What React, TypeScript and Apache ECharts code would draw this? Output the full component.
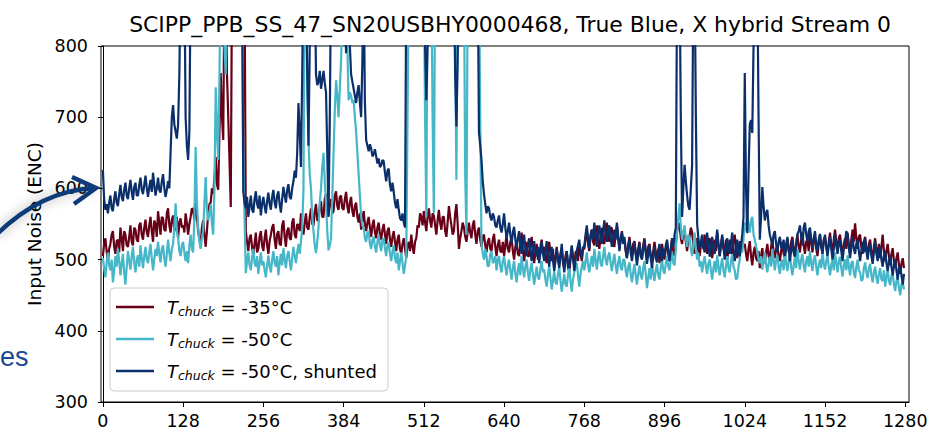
import React, { useEffect, useRef } from "react";
import * as echarts from "echarts";

const TITLE = "SCIPP_PPB_SS_47_SN20USBHY0000468, True Blue, X hybrid Stream 0";
const Y_NAME = "Input Noise (ENC)";
const STEP = 2; // channel spacing of the sampled values below
const X_TICKS = [0, 128, 256, 384, 512, 640, 768, 896, 1024, 1152, 1280];
const SERIES_NAMES = ["Tchuck = -35°C", "Tchuck = -50°C", "Tchuck = -50°C, shunted"];
const SERIES_SUFFIX = ["= -35°C", "= -50°C", "= -50°C, shunted"];
const COLORS = ["#680018", "#45b7c8", "#0b2f6b"];

// values beyond 800 run off the top of the plot (clipped)
const red = [
  505, 522, 530, 512, 498, 515, 522, 535, 540, 518, 508, 526, 528, 510, 545, 530, 512, 540, 535, 520, 518, 532, 548, 525, 520, 545, 542, 528, 525, 548, 552, 535,
  528, 545, 556, 538, 532, 548, 560, 540, 525, 555, 550, 532, 568, 552, 535, 560, 558, 542, 540, 565, 572, 548, 538, 556, 562, 540, 545, 560, 530, 552, 558, 545,
  548, 538, 565, 552, 535, 550, 560, 572, 570, 555, 598, 560, 540, 528, 522, 545, 555, 535, 518, 540, 565, 578, 580, 600, 592, 615, 644, 605, 598, 680, 762, 700,
  668, 900, 900, 760, 700, 640, 574, 900, 900, 900, 900, 900, 900, 900, 900, 900, 900, 900, 540, 525, 512, 530, 535, 518, 505, 522, 538, 510, 515, 532, 540, 520,
  512, 530, 542, 520, 508, 526, 535, 545, 550, 528, 515, 536, 540, 522, 520, 548, 555, 532, 518, 540, 545, 530, 528, 552, 558, 535, 530, 550, 548, 540, 565, 545,
  535, 552, 565, 545, 542, 560, 572, 550, 548, 568, 578, 555, 555, 575, 582, 560, 560, 585, 592, 570, 562, 580, 585, 565, 568, 590, 596, 575, 570, 588, 590, 572,
  570, 585, 595, 575, 565, 580, 588, 568, 560, 575, 580, 560, 552, 565, 542, 555, 568, 550, 540, 552, 560, 545, 532, 548, 556, 538, 530, 545, 552, 535, 528, 542,
  550, 535, 522, 540, 545, 528, 518, 532, 540, 525, 512, 528, 535, 515, 508, 522, 530, 515, 502, 520, 525, 512, 535, 518, 508, 525, 530, 548, 545, 565, 560, 548,
  568, 552, 540, 560, 572, 555, 545, 565, 562, 548, 535, 555, 570, 552, 542, 560, 560, 540, 532, 552, 575, 560, 548, 535, 540, 565, 578, 550, 515, 530, 540, 552,
  545, 532, 525, 540, 552, 538, 530, 548, 555, 535, 522, 540, 545, 528, 518, 532, 535, 520, 510, 525, 530, 515, 512, 528, 536, 518, 505, 520, 528, 512, 510, 525,
  505, 520, 535, 515, 510, 525, 530, 512, 500, 518, 526, 508, 505, 522, 538, 515, 498, 512, 525, 505, 505, 520, 532, 512, 495, 510, 522, 500, 502, 518, 528, 508,
  518, 505, 495, 512, 525, 508, 498, 515, 488, 502, 518, 500, 492, 508, 515, 495, 488, 505, 512, 490, 482, 500, 518, 502, 492, 510, 512, 498, 522, 508, 498, 515,
  515, 530, 540, 522, 512, 535, 542, 525, 520, 538, 548, 528, 515, 532, 545, 525, 522, 540, 552, 532, 525, 545, 544, 522, 518, 535, 548, 530, 515, 528, 540, 525,
  528, 512, 502, 520, 532, 515, 505, 522, 526, 510, 498, 515, 525, 508, 502, 520, 530, 512, 500, 518, 522, 505, 496, 512, 525, 510, 502, 515, 495, 508, 522, 510,
  500, 515, 525, 508, 498, 515, 528, 512, 505, 522, 538, 552, 548, 530, 522, 538, 540, 525, 512, 528, 532, 545, 538, 520, 508, 525, 530, 512, 505, 520, 528, 515,
  535, 520, 508, 525, 530, 515, 502, 518, 528, 512, 538, 520, 505, 522, 532, 515, 512, 528, 500, 515, 528, 510, 508, 525, 535, 518, 502, 515, 526, 512, 530, 518,
  522, 508, 498, 515, 526, 505, 492, 510, 518, 502, 498, 512, 488, 505, 516, 500, 495, 510, 522, 505, 500, 518, 528, 510, 502, 515, 520, 505, 498, 512, 525, 508,
  502, 518, 530, 512, 508, 525, 532, 515, 505, 522, 535, 518, 510, 528, 538, 520, 508, 525, 528, 512, 540, 525, 510, 528, 532, 515, 505, 522, 535, 518, 512, 528,
  532, 518, 508, 525, 538, 520, 510, 528, 542, 525, 512, 530, 535, 518, 505, 522, 530, 515, 538, 520, 510, 528, 542, 525, 551, 530, 515, 532, 535, 518, 508, 525,
  532, 515, 505, 522, 528, 510, 500, 518, 530, 512, 508, 522, 502, 518, 535, 512, 498, 512, 522, 505, 492, 508, 516, 498, 488, 502, 510, 492, 480, 495, 502, 488,
];

const cyan = [
  502, 488, 475, 495, 510, 492, 485, 500, 468, 485, 505, 490, 515, 498, 478, 495, 508, 482, 465, 490, 512, 498, 486, 505, 518, 495, 482, 500, 506, 490, 520, 502,
  488, 505, 518, 500, 495, 510, 522, 502, 485, 500, 515, 505, 525, 508, 496, 515, 520, 502, 490, 508, 528, 510, 498, 515, 522, 545, 579, 540, 530, 512, 505, 520,
  525, 510, 498, 512, 495, 520, 535, 515, 510, 560, 658, 580, 545, 525, 515, 530, 540, 580, 616, 570, 555, 565, 578, 550, 535, 600, 742, 680, 640, 760, 900, 900,
  900, 800, 760, 900, 900, 900, 900, 900, 900, 900, 900, 900, 900, 900, 900, 900, 640, 560, 481, 498, 510, 492, 485, 502, 515, 495, 490, 505, 480, 495, 510, 492,
  498, 485, 475, 492, 506, 490, 482, 500, 512, 495, 490, 505, 478, 495, 508, 492, 516, 500, 488, 505, 512, 498, 485, 502, 518, 505, 495, 510, 522, 508, 525, 545,
  600, 900, 900, 760, 668, 620, 600, 560, 540, 520, 509, 525, 545, 580, 600, 630, 650, 610, 580, 540, 513, 520, 530, 590, 650, 710, 752, 730, 700, 740, 780, 850,
  900, 900, 900, 800, 724, 735, 730, 720, 724, 700, 680, 650, 620, 590, 560, 548, 545, 530, 525, 538, 540, 522, 515, 528, 532, 518, 510, 525, 535, 520, 512, 528,
  530, 515, 505, 520, 525, 508, 498, 512, 520, 502, 495, 510, 485, 498, 510, 495, 480, 492, 505, 700, 900, 900, 900, 900, 900, 900, 900, 900, 900, 900, 900, 900,
  900, 700, 560, 900, 900, 900, 900, 700, 565, 900, 900, 900, 900, 900, 900, 900, 900, 900, 900, 900, 900, 900, 900, 900, 900, 800, 612, 900, 900, 900, 900, 900,
  900, 620, 535, 900, 900, 900, 900, 900, 900, 900, 900, 900, 900, 700, 522, 508, 500, 515, 505, 490, 492, 508, 512, 495, 498, 505, 485, 500, 505, 490, 482, 498,
  505, 490, 478, 492, 500, 485, 472, 488, 498, 480, 468, 485, 495, 478, 505, 488, 475, 490, 500, 482, 470, 486, 496, 480, 465, 478, 490, 475, 472, 488, 498, 482,
  486, 472, 462, 478, 492, 475, 458, 470, 484, 468, 465, 480, 490, 470, 455, 468, 480, 465, 462, 478, 488, 470, 455, 472, 482, 490, 495, 478, 462, 480, 490, 498,
  485, 498, 510, 492, 482, 495, 505, 490, 515, 500, 486, 502, 512, 495, 490, 505, 518, 500, 492, 505, 510, 495, 484, 498, 508, 492, 480, 495, 505, 490, 485, 500,
  500, 485, 475, 490, 496, 480, 468, 482, 494, 478, 465, 480, 492, 478, 472, 488, 498, 480, 460, 475, 488, 472, 495, 480, 470, 485, 494, 478, 472, 488, 500, 485,
  480, 495, 505, 490, 485, 500, 510, 495, 492, 515, 540, 560, 579, 545, 528, 538, 548, 530, 518, 535, 530, 515, 505, 520, 538, 515, 500, 510, 490, 498, 482, 495,
  505, 490, 480, 495, 500, 485, 472, 488, 498, 482, 506, 490, 478, 492, 502, 485, 475, 490, 505, 488, 482, 498, 508, 490, 485, 472, 474, 490, 500, 515, 510, 530,
  552, 540, 565, 548, 538, 555, 560, 535, 528, 518, 512, 500, 495, 505, 486, 498, 510, 492, 482, 495, 504, 490, 515, 498, 485, 500, 506, 490, 480, 495, 500, 485,
  510, 495, 484, 498, 506, 490, 478, 492, 504, 488, 515, 498, 486, 500, 508, 492, 482, 498, 505, 490, 512, 495, 484, 500, 506, 490, 478, 492, 500, 488, 512, 495,
  486, 498, 506, 490, 478, 492, 500, 485, 510, 495, 482, 498, 504, 488, 476, 492, 500, 485, 506, 490, 478, 495, 498, 482, 474, 490, 500, 485, 482, 470, 472, 488,
  496, 482, 474, 488, 494, 478, 468, 482, 490, 475, 466, 480, 488, 472, 470, 485, 462, 476, 486, 470, 464, 478, 480, 465, 456, 470, 476, 460, 450, 465, 468, 458,
];

const navy = [
  626, 585, 570, 578, 565, 580, 590, 572, 568, 585, 596, 580, 575, 592, 605, 588, 582, 598, 608, 590, 585, 600, 612, 595, 584, 602, 608, 590, 590, 605, 615, 598,
  592, 605, 618, 600, 588, 602, 612, 595, 622, 605, 590, 600, 615, 598, 594, 610, 620, 600, 588, 598, 610, 600, 650, 700, 717, 690, 680, 670, 690, 760, 900, 900,
  900, 900, 700, 660, 640, 680, 900, 900, 900, 900, 900, 900, 900, 900, 900, 900, 900, 900, 900, 900, 900, 900, 900, 900, 900, 900, 900, 900, 900, 900, 900, 900,
  900, 900, 900, 900, 900, 900, 900, 900, 900, 900, 900, 900, 900, 900, 900, 900, 595, 580, 572, 588, 560, 575, 590, 570, 566, 585, 596, 578, 572, 590, 562, 578,
  588, 575, 565, 582, 594, 578, 570, 588, 598, 580, 572, 590, 596, 578, 566, 585, 602, 590, 580, 598, 606, 588, 585, 600, 610, 625, 615, 650, 720, 680, 630, 760,
  900, 900, 900, 760, 660, 800, 900, 900, 900, 900, 760, 745, 750, 765, 740, 752, 765, 748, 735, 650, 560, 700, 900, 900, 900, 900, 900, 900, 900, 900, 900, 900,
  900, 850, 790, 900, 900, 800, 760, 750, 740, 730, 720, 735, 745, 720, 700, 780, 900, 720, 668, 660, 652, 662, 656, 645, 648, 655, 645, 635, 642, 630, 632, 640,
  638, 622, 610, 625, 628, 605, 596, 608, 595, 580, 572, 585, 570, 558, 555, 565, 552, 545, 900, 900, 900, 900, 900, 900, 900, 900, 900, 900, 900, 900, 900, 900,
  900, 800, 724, 800, 900, 900, 900, 900, 900, 900, 900, 900, 900, 900, 900, 900, 900, 900, 900, 900, 900, 900, 900, 900, 900, 760, 687, 780, 900, 900, 900, 900,
  900, 900, 900, 900, 900, 900, 900, 900, 900, 900, 900, 900, 678, 660, 640, 610, 592, 578, 565, 575, 572, 560, 555, 565, 560, 548, 545, 555, 562, 545, 538, 550,
  565, 545, 530, 540, 552, 535, 522, 538, 546, 528, 515, 530, 540, 520, 508, 525, 535, 515, 505, 520, 530, 512, 498, 515, 526, 510, 505, 518, 495, 510, 525, 508,
  498, 512, 526, 505, 490, 508, 518, 500, 484, 498, 515, 502, 488, 505, 522, 500, 482, 498, 512, 495, 488, 505, 520, 502, 484, 498, 512, 520, 528, 510, 502, 518,
  518, 535, 548, 530, 515, 532, 542, 528, 552, 535, 518, 538, 548, 530, 522, 540, 555, 538, 525, 542, 548, 530, 518, 535, 542, 528, 552, 535, 512, 528, 538, 522,
  532, 515, 502, 518, 528, 510, 498, 512, 525, 508, 492, 508, 522, 505, 500, 515, 528, 510, 494, 508, 520, 502, 488, 505, 518, 502, 496, 512, 522, 508, 498, 515,
  505, 520, 528, 510, 498, 515, 530, 518, 535, 545, 900, 900, 900, 700, 560, 600, 633, 610, 590, 575, 570, 600, 633, 900, 900, 700, 550, 530, 515, 525, 535, 518,
  510, 525, 538, 520, 504, 518, 532, 515, 508, 525, 542, 522, 505, 520, 535, 518, 500, 515, 530, 512, 508, 522, 538, 518, 498, 512, 528, 510, 505, 520, 535, 560,
  762, 600, 537, 620, 690, 696, 678, 800, 900, 900, 900, 700, 528, 560, 602, 575, 555, 565, 570, 548, 535, 528, 520, 535, 540, 522, 510, 525, 532, 518, 515, 528,
  505, 520, 532, 515, 498, 512, 528, 510, 504, 522, 536, 540, 548, 532, 520, 545, 552, 535, 525, 540, 545, 528, 516, 530, 540, 522, 512, 528, 536, 518, 508, 525,
  535, 518, 505, 520, 532, 515, 500, 515, 536, 520, 508, 522, 528, 512, 498, 515, 525, 540, 535, 518, 502, 518, 532, 515, 508, 522, 528, 512, 498, 512, 525, 510,
  530, 512, 500, 515, 522, 505, 494, 510, 526, 508, 498, 512, 518, 500, 490, 505, 512, 495, 484, 498, 506, 490, 478, 492, 500, 485, 472, 488, 490, 478, 465, 480,
];

const SERIES_VALUES = [red, cyan, navy];
const FONT = "DejaVu Sans";

export default function App() {
  const ref = useRef<HTMLDivElement>(null);
  useEffect(() => {
    if (!ref.current) return;
    const chart = echarts.init(ref.current, null, { renderer: "svg" });
    const suffixOf: Record<string, string> = {};
    SERIES_NAMES.forEach((n, i) => (suffixOf[n] = SERIES_SUFFIX[i]));
    chart.setOption({
      animation: false,
      backgroundColor: "#ffffff",
      title: {
        text: TITLE,
        left: 505,
        textAlign: "center",
        top: 8,
        textStyle: { fontFamily: FONT, fontSize: 21.9, fontWeight: "normal", color: "#000" },
      },
      grid: {
        left: 101,
        right: 24,
        top: 46,
        bottom: 31,
        show: true,
        borderColor: "#000",
        borderWidth: 1,
        backgroundColor: "transparent",
      },
      legend: {
        orient: "vertical",
        left: 110,
        top: 288,
        icon: "rect",
        itemWidth: 38,
        itemHeight: 2.5,
        itemGap: 10,
        padding: [8, 11, 9, 6],
        backgroundColor: "rgba(255,255,255,0.8)",
        borderColor: "#cccccc",
        borderWidth: 1,
        borderRadius: 4,
        data: SERIES_NAMES,
        formatter: (name: string) => `{i|T}{s|chuck}{n| ${suffixOf[name]}}`,
        textStyle: {
          fontFamily: FONT,
          fontSize: 18,
          color: "#000",
          lineHeight: 22,
          rich: {
            i: { fontFamily: FONT, fontSize: 18, fontStyle: "italic", color: "#000", lineHeight: 22, padding: [0, 0, 0, 8] },
            s: { fontFamily: FONT, fontSize: 12.5, fontStyle: "italic", color: "#000", lineHeight: 10, verticalAlign: "bottom" },
            n: { fontFamily: FONT, fontSize: 18, color: "#000", lineHeight: 22 },
          },
        },
      },
      xAxis: {
        type: "value",
        min: -3,
        max: 1286,
        axisLine: { show: true, lineStyle: { color: "#000", width: 1 } },
        axisTick: { show: true, length: 5, inside: false, customValues: X_TICKS, lineStyle: { color: "#000" } },
        axisLabel: {
          customValues: X_TICKS,
          formatter: (v: number) => String(v),
          fontFamily: FONT,
          fontSize: 17.5,
          color: "#000",
          margin: 10,
        },
        splitLine: { show: false },
      },
      yAxis: {
        type: "value",
        min: 300,
        max: 800,
        interval: 100,
        name: Y_NAME,
        nameLocation: "middle",
        nameGap: 54,
        nameTextStyle: { fontFamily: FONT, fontSize: 18.5, color: "#000" },
        axisLine: { show: true, lineStyle: { color: "#000", width: 1 } },
        axisTick: { show: true, length: 5, inside: false, lineStyle: { color: "#000" } },
        axisLabel: { fontFamily: FONT, fontSize: 17.5, color: "#000", margin: 13 },
        splitLine: { show: false },
      },
      series: SERIES_VALUES.map((vals, k) => ({
        name: SERIES_NAMES[k],
        type: "line",
        data: vals.map((v, i) => [i * STEP, v]),
        showSymbol: false,
        symbol: "none",
        clip: true,
        silent: true,
        color: COLORS[k],
        lineStyle: { color: COLORS[k], width: 2.2 },
        z: 2 + k,
      })),
      graphic: [
        {
          type: "bezierCurve",
          shape: { x1: -4, y1: 235, cpx1: 42, cpy1: 190, x2: 95, y2: 188 },
          style: {
            stroke: "#0f3b78",
            lineWidth: 4.5,
            fill: "none",
            shadowBlur: 12,
            shadowColor: "rgba(0,0,0,0.35)",
          },
          z: 100,
        },
        {
          type: "polyline",
          shape: { points: [[72, 177], [96, 188], [74, 204]] },
          style: { stroke: "#0f3b78", lineWidth: 4.5, fill: "none", lineJoin: "miter" },
          z: 100,
        },
        {
          type: "text",
          left: 0,
          top: 343,
          style: { text: "es", fontFamily: "Liberation Sans", fontSize: 27, fill: "#1b4a94" },
          z: 100,
        },
      ],
    });
    return () => chart.dispose();
  }, []);
  return (
    <div
      ref={ref}
      style={{ position: "absolute", left: 0, top: 0, width: 933, height: 433, background: "#fff" }}
    />
  );
}
